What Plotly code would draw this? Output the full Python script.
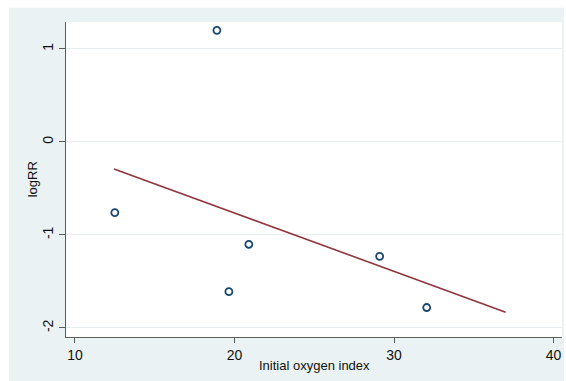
import plotly.graph_objects as go

# Study-level estimates
oxygen_index = [12.5, 18.9, 19.65, 20.9, 29.1, 32.05]
log_rr = [-0.76, 1.20, -1.61, -1.10, -1.23, -1.78]

# Fitted meta-regression line (end points)
fit_x = [12.45, 37.0]
fit_y = [-0.29, -1.83]

x_ticks = [10, 20, 30, 40]
y_ticks = [-2, -1, 0, 1]

NAVY = "#1a476f"
MAROON = "#90353b"
BG = "#eaf2f3"
AXIS = "#5c5c5c"
FONT = "Liberation Sans, Arial, sans-serif"

fig = go.Figure()

fig.add_trace(go.Scatter(
    x=oxygen_index, y=log_rr, mode="markers",
    marker=dict(symbol="circle-open", size=7, color=NAVY, line=dict(width=1.8, color=NAVY)),
    showlegend=False,
))
fig.add_trace(go.Scatter(
    x=fit_x, y=fit_y, mode="lines",
    line=dict(color=MAROON, width=1.6),
    showlegend=False,
))

# Graph-region background panel, with the white plot region on top of it
fig.add_shape(type="rect", xref="paper", yref="paper",
              x0=-0.115, x1=1.004, y0=-0.14, y1=1.045,
              fillcolor=BG, line=dict(width=0), layer="below")
fig.add_shape(type="rect", xref="paper", yref="paper",
              x0=0, x1=1, y0=0, y1=1,
              fillcolor="white", line=dict(width=0), layer="below")

fig.add_annotation(text="Initial oxygen index", xref="paper", yref="paper",
                   x=0.5, y=-0.09, xanchor="center", yanchor="middle",
                   showarrow=False, font=dict(family=FONT, size=13, color="#111"))
fig.add_annotation(text="logRR", xref="paper", yref="paper",
                   x=-0.067, y=0.5, xanchor="center", yanchor="middle", textangle=-90,
                   showarrow=False, font=dict(family=FONT, size=13, color="#111"))

fig.update_layout(
    width=566, height=381,
    margin=dict(l=66, r=4, t=22, b=44),
    paper_bgcolor="white",
    plot_bgcolor="white",
    font=dict(family=FONT, size=14, color="#111"),
    xaxis=dict(
        range=[9.44, 40.53], tickvals=x_ticks, ticktext=[str(v) for v in x_ticks],
        showgrid=False, zeroline=False, showline=True, linecolor=AXIS, linewidth=1,
        ticks="outside", ticklen=5, tickcolor=AXIS, tickfont=dict(size=14),
    ),
    yaxis=dict(
        range=[-2.097, 1.29], tickvals=y_ticks, ticktext=[str(v) for v in y_ticks],
        tickangle=-90,
        showgrid=True, gridcolor="#e6eef0", gridwidth=1,
        zeroline=False, showline=True, linecolor=AXIS, linewidth=1,
        ticks="outside", ticklen=6, tickcolor=AXIS, tickfont=dict(size=14),
    ),
)

fig.write_html("out.html")
